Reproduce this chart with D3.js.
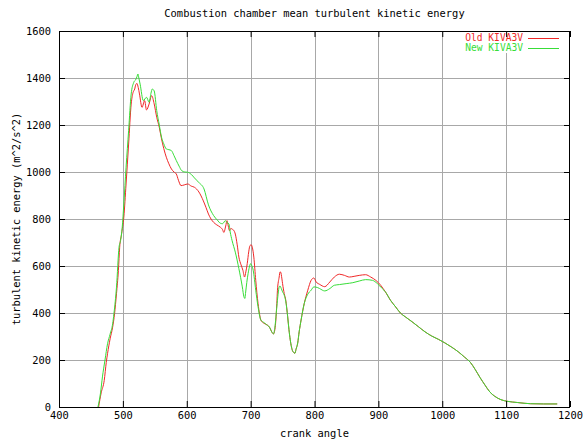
<!DOCTYPE html>
<html><head><meta charset="utf-8">
<script src="https://cdn.jsdelivr.net/npm/d3@7"></script>
<style>
body{margin:0;background:#fff}
svg{display:block}
text{font-family:"DejaVu Sans Mono","Liberation Mono",monospace;font-size:10.4px;fill:#000}
</style>
</head><body>
<script>
const titleText = "Combustion chamber mean turbulent kinetic energy";
const xLabel = "crank angle";
const yLabel = "turbulent kinetic energy (m^2/s^2)";
const seriesNames = ["Old KIVA3V", "New KIVA3V"];
const seriesColors = ["#f02828", "#38dd38"];
const xTicks = [400,500,600,700,800,900,1000,1100,1200];
const yTicks = [0,200,400,600,800,1000,1200,1400,1600];

const oldAngle = [462,466,470.8,474,476,480,484,487,490,493,495,498,501.5,505,509,513,516,518.5,520,522,524,526,530,534,537,541,545,549,553,557,560.5,564,568,572,576,580,583.6,587,591,596,601.5,607,612,619,626,630,634,638,642,647,652.6,656,658,661,663,665,667,669,671,674,676,679,681.6,685,688,690.5,692.5,694.7,697,699,701,702.6,705,708,711.6,714,716,721,726,730.5,733,735.8,738,739.5,741,742,744.7,746,747,749,750,752.6,755,758,760,762,764,766,769.5,771,773.7,776,779,784,789.5,794.7,799,802.6,808,816,824,831,839,847,854.6,862,870,880,888,896,903.6,911,919,927,934.5,942,952.6,963,973,983.5,994,1004,1014,1025,1035,1044,1051.5,1059,1067,1074.5,1082,1092,1102.5,1118,1138,1158.7,1180];
const oldTke = [0,60,113,190,227,290,340,397,482,581,680,737,808,949,1119,1289,1339,1353,1370,1377,1360,1332,1275,1304,1264,1289,1325,1290,1233,1190,1141,1100,1063,1035,1013,1000,992,965,942,945,949,940,935,915,877,850,821,800,786,775,765,755,743,770,793,770,750,760,757,750,736,690,638,605,581,553,575,610,660,687,690,680,638,539,441,395,370,356,349,335,320,311,330,370,440,497,553,575,574,545,525,483,455,384,330,286,255,237,229,245,272,320,370,441,497,539,549,532,522,512,532,553,565,560,553,556,560,563,553,539,518,490,454,426,400,384,363,341,320,302,288,273,256,235,212,190,160,126,93,64,46,31,24,19,14,13,13];

const newAngle = [461,465,468,472,476,480,484,486,490,494,496.4,499,501.5,505,509,513,517,520.5,522,523.6,525,527,532,537,541,544,546,549,553,557,560.5,564,568,572,576,580,583.6,588,592,597,601.5,607,612,619,627,634,642,648,652.6,656,660.5,663,666,668,671,676,681.6,687,689.5,691,692,694,696,698,700,702,704,708,711.6,716,721,725,729,733,735.8,738,741,743,744.7,746,748,750,752.6,755,758,760,762,764,766,769.5,771,773.7,776,779,784,789.5,794.7,799,805,808,816,824,831,839,849.5,860,870,880,890.7,898.5,906,911,919,927,934.5,942,952.6,963,973,983.5,994,1004,1014,1025,1035,1044,1051.5,1059,1067,1074.5,1082,1092,1102.5,1118,1138,1158.7,1180];
const newTke = [0,60,128,200,269,310,354,397,510,680,708,765,864,1020,1176,1332,1381,1395,1405,1417,1400,1374,1304,1318,1297,1335,1353,1345,1261,1200,1148,1120,1098,1095,1091,1070,1049,1025,1006,1000,999,990,975,955,928,860,815,795,782,780,793,785,779,745,708,659,589,511,469,462,483,530,567,595,610,600,582,497,427,370,359,350,342,320,311,340,426,480,511,515,504,490,476,450,384,330,286,255,237,229,245,272,320,370,441,480,497,511,508,504,494,504,518,521,525,529,536,542,539,525,504,490,454,426,400,384,363,341,320,302,288,273,256,235,212,190,160,126,93,64,46,31,24,19,14,13,13];

const W = 584, H = 445;
const L = 59, R = 570, T = 31, B = 407;
const x = d3.scaleLinear().domain([400,1200]).range([L,R]);
const y = d3.scaleLinear().domain([0,1600]).range([B,T]);

const svg = d3.select("body").append("svg").attr("width",W).attr("height",H);
svg.append("rect").attr("width",W).attr("height",H).attr("fill","#fff");

// grid
const grid = svg.append("g").attr("stroke","#a8a8a8").attr("stroke-width",1);
grid.selectAll(".gx").data(xTicks.slice(1,-1)).join("line")
  .attr("x1",d=>Math.round(x(d))+0.5).attr("x2",d=>Math.round(x(d))+0.5)
  .attr("y1",T).attr("y2",B);
grid.selectAll(".gy").data(yTicks.slice(1,-1)).join("line")
  .attr("y1",d=>Math.round(y(d))+0.5).attr("y2",d=>Math.round(y(d))+0.5)
  .attr("x1",L).attr("x2",R);

// legend background (hides grid)
svg.append("rect").attr("x",455).attr("y",T+1).attr("width",R-456).attr("height",21).attr("fill","#fff");

// series
const line = d3.line().x(d=>x(d[0])).y(d=>y(d[1])).curve(d3.curveMonotoneX);
const series = [
  d3.zip(oldAngle, oldTke),
  d3.zip(newAngle, newTke)
];
series.forEach((s,i)=>{
  svg.append("path").datum(s).attr("d",line).attr("fill","none")
    .attr("stroke",seriesColors[i]).attr("stroke-width",1).attr("stroke-linejoin","round");
});

// axes with inward ticks
const ax = svg.append("g").attr("transform",`translate(0,${B})`)
  .call(d3.axisBottom(x).tickValues(xTicks).tickSizeInner(-6).tickSizeOuter(0).tickPadding(5).tickFormat(d3.format("d")));
const ay = svg.append("g").attr("transform",`translate(${L},0)`)
  .call(d3.axisLeft(y).tickValues(yTicks).tickSizeInner(-6).tickSizeOuter(0).tickPadding(8).tickFormat(d3.format("d")));
const at = svg.append("g").attr("transform",`translate(0,${T})`)
  .call(d3.axisTop(x).tickValues(xTicks).tickSizeInner(-6).tickSizeOuter(0).tickFormat(""));
const ar = svg.append("g").attr("transform",`translate(${R},0)`)
  .call(d3.axisRight(y).tickValues(yTicks).tickSizeInner(-6).tickSizeOuter(0).tickFormat(""));
[ax,ay,at,ar].forEach(g=>{
  g.select(".domain").remove();
  g.selectAll(".tick line").attr("stroke","#000");
  g.selectAll("text").attr("font-family",null).attr("font-size",null).attr("fill","#000");
  g.attr("font-family",null).attr("font-size",null);
});

// border
svg.append("rect").attr("x",L+0.5).attr("y",T+0.5).attr("width",R-L-1).attr("height",B-T)
  .attr("fill","none").attr("stroke","#000").attr("stroke-width",1);

// title and labels
svg.append("text").attr("x",(L+R)/2).attr("y",17).attr("text-anchor","middle").text(titleText);
svg.append("text").attr("x",(L+R)/2).attr("y",437).attr("text-anchor","middle").text(xLabel);
svg.append("text").attr("transform",`translate(20,${(T+B)/2}) rotate(-90)`).attr("text-anchor","middle").text(yLabel);

// legend
seriesNames.forEach((n,i)=>{
  const yy = 38 + i*10;
  svg.append("text").attr("x",523).attr("y",yy).attr("dy","0.35em").attr("text-anchor","end")
    .style("font-size","9.6px").style("fill",seriesColors[i]).text(n);
  svg.append("line").attr("x1",528).attr("x2",559).attr("y1",yy+0.5).attr("y2",yy+0.5)
    .attr("stroke",seriesColors[i]).attr("stroke-width",1);
});
</script>
</body></html>
